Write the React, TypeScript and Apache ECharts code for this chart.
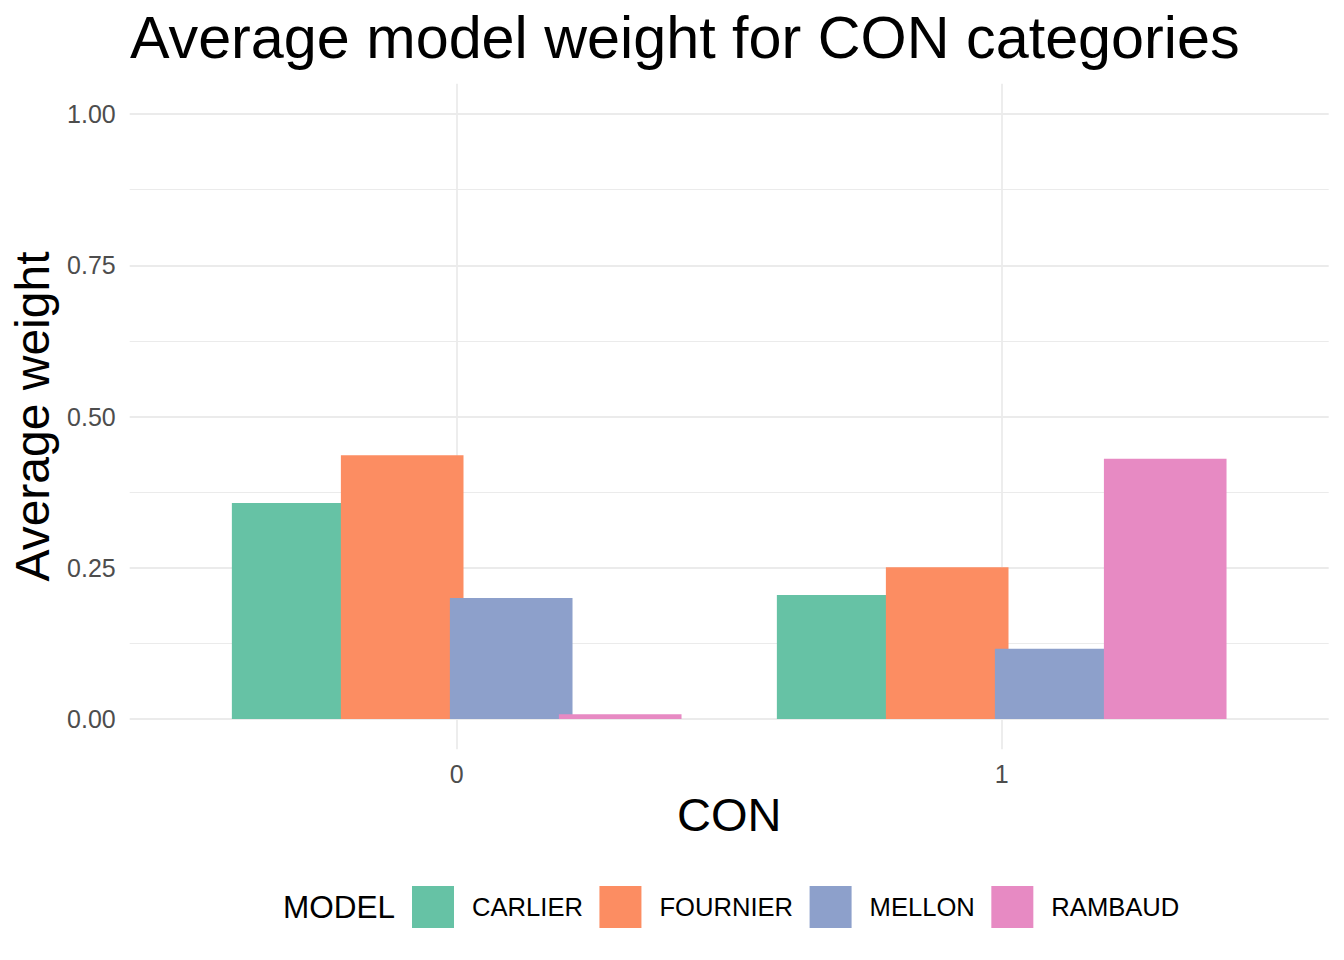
import React, { useEffect, useRef } from "react";
import * as echarts from "echarts";

const categories = ["0", "1"];
const models = ["CARLIER", "FOURNIER", "MELLON", "RAMBAUD"];
const carlier = [0.357, 0.205];
const fournier = [0.436, 0.251];
const mellon = [0.2, 0.116];
const rambaud = [0.008, 0.43];
const yTickLabels = [0, 0.25, 0.5, 0.75, 1];
const colors = ["#66C2A5", "#FC8D62", "#8DA0CB", "#E78AC3"];

const FONT = "'Liberation Sans', Arial, Helvetica, sans-serif";
const GRID = "#ebebeb";
const NONE = "rgba(0,0,0,0)";

export default function App() {
  const ref = useRef<HTMLDivElement>(null);
  useEffect(() => {
    document.body.style.margin = "0";
    if (!ref.current) return;
    const chart = echarts.init(ref.current, null, { renderer: "svg" });
    const seriesValues = [carlier, fournier, mellon, rambaud];
    const majorY = Array.from({ length: 10 }, (_, i) => (i === 2 ? GRID : NONE));
    const minorY = Array.from({ length: 10 }, (_, i) => (i === 7 ? GRID : NONE));
    const vertX = Array.from({ length: 5 }, (_, i) => (i === 3 ? GRID : NONE));
    const top = 83.75;
    const bottom = 960 - 749.25;
    const option: any = {
      animation: false,
      backgroundColor: "#ffffff",
      title: {
        text: "Average model weight for CON categories",
        left: 130,
        top: 8,
        padding: 0,
        textStyle: { fontFamily: FONT, fontSize: 59.3, fontWeight: "normal", color: "#000000" },
      },
      legend: {
        data: models,
        left: 412,
        top: 886,
        padding: 0,
        itemWidth: 42,
        itemHeight: 42,
        itemGap: 16.5,
        icon: "rect",
        selectedMode: false,
        textStyle: { fontFamily: FONT, fontSize: 25.6, color: "#000000", padding: [0, 0, 0, 13] },
      },
      graphic: [
        {
          type: "text",
          left: 283,
          top: 907 - 16,
          style: {
            text: "MODEL",
            fontFamily: FONT,
            fontSize: 31.5,
            fill: "#000000",
            textVerticalAlign: "middle",
          },
        },
      ],
      grid: [
        { left: 129.7, width: 1199, top, bottom, outerBoundsMode: "none", containLabel: false },
        { left: 184.2, width: 1090, top, bottom, outerBoundsMode: "none", containLabel: false },
      ],
      xAxis: [
        {
          type: "value",
          gridIndex: 0,
          min: 0.4,
          max: 2.6,
          interval: 0.2,
          axisLine: { show: false, onZero: false },
          axisTick: { show: false },
          axisLabel: { show: false },
          splitLine: { show: true, showMinLine: true, showMaxLine: true, lineStyle: { color: vertX, width: 1.8 } },
        },
        {
          type: "category",
          gridIndex: 1,
          data: categories,
          axisLine: { show: false, onZero: false },
          axisTick: { show: false },
          splitLine: { show: false },
          axisLabel: { fontFamily: FONT, fontSize: 25, color: "#4d4d4d", margin: 12 },
          name: "CON",
          nameLocation: "middle",
          nameGap: 38,
          nameTextStyle: { fontFamily: FONT, fontSize: 47, color: "#000000" },
        },
      ],
      yAxis: [
        {
          type: "value",
          gridIndex: 0,
          min: -0.05,
          max: 1.05,
          interval: 0.025,
          axisLine: { show: false, onZero: false },
          axisTick: { show: false },
          axisLabel: {
            fontFamily: FONT,
            fontSize: 25,
            color: "#4d4d4d",
            margin: 14,
            formatter: (v: number) => {
              const hit = yTickLabels.find((t) => Math.abs(t - v) < 1e-6);
              return hit === undefined ? "" : hit.toFixed(2);
            },
          },
          splitLine: { show: true, showMinLine: true, showMaxLine: true, lineStyle: { color: majorY, width: 1.8 } },
          name: "Average weight",
          nameLocation: "middle",
          nameGap: 73,
          nameTextStyle: { fontFamily: FONT, fontSize: 48, color: "#000000" },
        },
        {
          type: "value",
          gridIndex: 0,
          min: -0.05,
          max: 1.05,
          interval: 0.025,
          axisLine: { show: false, onZero: false },
          axisTick: { show: false },
          axisLabel: { show: false },
          splitLine: { show: true, showMinLine: true, showMaxLine: true, lineStyle: { color: minorY, width: 1 } },
        },
        {
          type: "value",
          gridIndex: 1,
          min: -0.05,
          max: 1.05,
          show: false,
        },
      ],
      series: models.map((name, i) => ({
        name,
        type: "bar",
        xAxisIndex: 1,
        yAxisIndex: 2,
        data: seriesValues[i],
        barWidth: "22.5%",
        barGap: "-11.1%",
        itemStyle: { color: colors[i] },
        emphasis: { disabled: true },
      })),
    };
    chart.setOption(option);
    return () => chart.dispose();
  }, []);
  return <div ref={ref} style={{ width: 1344, height: 960 }} />;
}
